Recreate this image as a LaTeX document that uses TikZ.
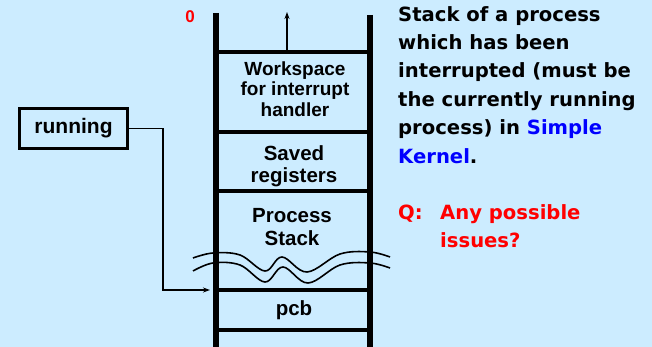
\documentclass[tikz,border=0pt]{standalone}
\usepackage{fontspec}
\setmainfont{Liberation Sans}
\newfontfamily\notefont{DejaVu Sans}
\usetikzlibrary{arrows.meta}
\definecolor{bgblue}{RGB}{204,236,255}
\definecolor{kblue}{RGB}{0,0,255}
\definecolor{kred}{RGB}{255,0,0}
\begin{document}
\begin{tikzpicture}[x=1pt,y=-1pt,
  bar/.style={line width=6.5pt},
  rung/.style={line width=3.5pt},
  slot/.style={font=\bfseries\fontsize{20.5}{23}\selectfont, align=center, inner sep=0pt},
  conn/.style={line width=1.4pt, -{Stealth[length=7pt,width=5pt]}},
  wave/.style={line width=1.6pt, smooth, tension=0.6},
  note/.style={font=\notefont\bfseries\fontsize{19.6}{28.4}\selectfont, align=left, anchor=north west, inner sep=0pt}]
\fill[bgblue] (0,0) rectangle (652,347);
\useasboundingbox (0,0) rectangle (652,347);
% bars of the stack
\draw[bar] (216,13) -- (216,347);
\draw[bar] (370,15) -- (370,347);
% rungs
\coordinate (r0l) at (216,52); \coordinate (r0r) at (370,52);
\draw[rung] (r0l) -- (r0r);
\draw[rung] (216,132) -- (370,132);
\draw[rung] (216,191) -- (370,191);
\draw[rung] (216,290) -- (370,290);
\draw[rung] (216,330) -- (370,330);
% up arrow
\coordinate (upstart) at (287,52);
\coordinate (upend) at (287,12);
\draw[conn] (upstart) -- (upend);
% zero label
\node[font=\bfseries\fontsize{17}{17}\selectfont, text=kred, inner sep=0pt] (zero) at (190,17) {0};
% slot labels
\node[slot, font=\bfseries\fontsize{19}{20.5}\selectfont] (work) at (295,89) {Workspace\\for interrupt\\handler};
\node[slot, font=\bfseries\fontsize{20.5}{22}\selectfont] (saved) at (294,166) {Saved\\registers};
\node[slot, font=\bfseries\fontsize{20.5}{23.5}\selectfont] (pstack) at (292,227) {Process\\Stack};
\node[slot] (pcb) at (294,310) {pcb};
% break in the stack
\draw[wave] plot coordinates {(193,258) (213,253) (240,255) (265,271) (282,257) (307,272) (340,254) (370,252) (390,257)};
\draw[wave] plot coordinates {(193,271) (213,263) (240,265) (265,282) (283,267) (308,283) (340,265) (370,263) (390,268)};
% running box
\node[draw, line width=3pt, minimum width=108pt, minimum height=40pt, inner sep=0pt,
      font=\bfseries\fontsize{21}{21}\selectfont] (running) at (73.5,128.5) {running};
\coordinate (pcbin) at (210,290);
\draw[conn] (running.east) -- (163,128.5) |- (pcbin);
% notes
\node[note] (desc) at (398,6) {Stack of a process\\which has been\\interrupted (must be\\the currently running\\process) in \textcolor{kblue}{Simple}\\\textcolor{kblue}{Kernel}.};
\node[note, text=kred] (question) at (398,204) {\makebox[42pt][l]{Q:}Any possible\\\hspace*{42pt}issues?};
\end{tikzpicture}
\end{document}
